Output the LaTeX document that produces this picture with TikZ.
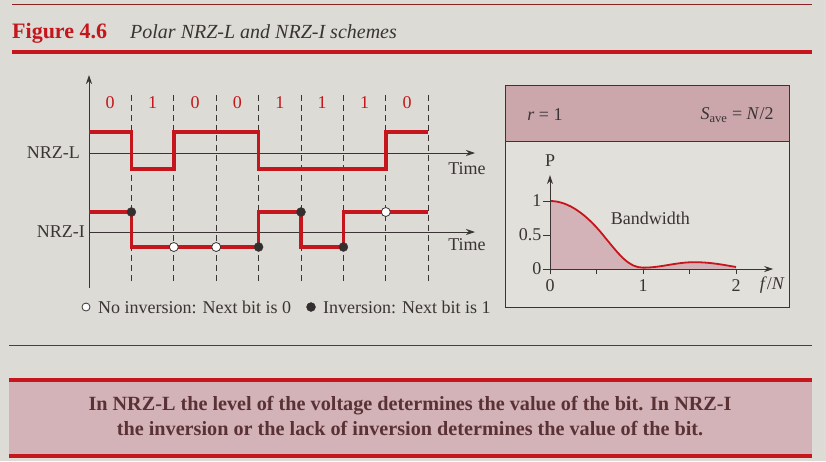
\documentclass[tikz,border=0pt]{standalone}
\usepackage{fontspec}
\setmainfont{Liberation Serif}
\usetikzlibrary{arrows.meta}
\definecolor{paper}{HTML}{DCDBD5}
\definecolor{panel}{HTML}{E1E0DB}
\definecolor{bookred}{HTML}{C4161C}
\definecolor{rose}{HTML}{CBA7AC}
\definecolor{roselight}{HTML}{D3B3B7}
\definecolor{ink}{HTML}{3A3434}
\definecolor{brownink}{HTML}{5A3236}
\tikzset{
  signal/.style={bookred,line width=3.4pt,line join=miter},
  bitline/.style={ink,line width=0.8pt,dash pattern=on 6pt off 4pt},
  axisline/.style={ink,line width=0.9pt,-{Stealth[length=9pt,width=6pt]}},
  onedot/.style={circle,fill=ink!90!black,draw=ink,inner sep=0pt,minimum size=9pt},
  zerodot/.style={circle,fill=white,draw=ink,line width=0.8pt,inner sep=0pt,minimum size=9pt},
  lbl/.style={font=\fontsize{18}{20}\selectfont,text=ink,inner sep=1pt}
}
\begin{document}
\begin{tikzpicture}[x=1pt,y=-1pt]
\def\w{42.4}
\fill[paper] (0,0) rectangle (826,461);
\useasboundingbox (0,0) rectangle (826,461);
% heading
\draw[bookred!60!ink,line width=0.8pt] (12,4) -- (812,4);
\node[anchor=base west,inner sep=0pt,text=bookred,font=\fontsize{22}{24}\selectfont\bfseries] (fignum) at (12,38) {Figure 4.6};
\node[anchor=base west,inner sep=0pt,text=ink,font=\fontsize{20}{24}\selectfont\itshape] (figtitle) at (130,38) {Polar NRZ-L and NRZ-I schemes};
\draw[bookred,line width=3.5pt] (12,52) -- (812,52);
% bit cells
\foreach \b [count=\i] in {0,1,0,0,1,1,1,0} {
  \draw[bitline] (89+\i*\w,95) -- (89+\i*\w,283);
  \node[lbl,text=bookred] (bit\i) at (89+\i*\w-\w/2,103) {\b};
}
% axes
\draw[axisline] (89,288) -- (89,75);
\draw[axisline] (89,153) -- (475,153);
\draw[axisline] (89,232) -- (475,232);
\node[lbl,anchor=east] (nrzl) at (81,153) {NRZ-L};
\node[lbl,anchor=east] (nrzi) at (86,232) {NRZ-I};
\node[lbl] (timel) at (467,169) {Time};
\node[lbl] (timei) at (467,245) {Time};
% NRZ-L
\draw[signal] (89,132) -- (89+\w,132) -- (89+\w,169) -- (89+2*\w,169) -- (89+2*\w,132)
  -- (89+4*\w,132) -- (89+4*\w,169) -- (89+7*\w,169) -- (89+7*\w,132) -- (89+8*\w,132);
% NRZ-I
\draw[signal] (89,212) -- (89+\w,212) -- (89+\w,247) -- (89+4*\w,247) -- (89+4*\w,212)
  -- (89+5*\w,212) -- (89+5*\w,247) -- (89+6*\w,247) -- (89+6*\w,212) -- (89+8*\w,212);
\node[onedot] (inv1) at (89+\w,212) {};
\node[zerodot] (keep1) at (89+2*\w,247) {};
\node[zerodot] (keep2) at (89+3*\w,247) {};
\node[onedot] (inv2) at (89+4*\w,247) {};
\node[onedot] (inv3) at (89+5*\w,212) {};
\node[onedot] (inv4) at (89+6*\w,247) {};
\node[zerodot] (keep3) at (89+7*\w,212) {};
% legend
\node[zerodot,minimum size=8pt] (keepkey) at (86,307) {};
\node[lbl,anchor=west] (keeptext) at (97,307) {No inversion: Next bit is 0};
\node[onedot] (invkey) at (311,307) {};
\node[lbl,anchor=west] (invtext) at (322,307) {Inversion: Next bit is 1};
% spectrum panel
\fill[panel] (505,141) rectangle (789,307);
\fill[rose] (505,85) rectangle (789,141);
\draw[ink,line width=0.9pt] (505,85) rectangle (789,307) (505,141) -- (789,141);
\node[lbl] (rate) at (545,115) {\textit{r} = 1};
\node[lbl] (save) at (737,115) {\textit{S}\textsubscript{ave} = \textit{N}/2};
\begin{scope}[shift={(550,269)},x=93pt,y=68pt]
\fill[roselight] (0,0) -- (0,1) .. controls (0.2,1) and (0.4,0.8) .. (0.6,0.45)
  .. controls (0.75,0.2) and (0.85,0.02) .. (1,0.02)
  .. controls (1.2,0.02) and (1.35,0.1) .. (1.55,0.1)
  .. controls (1.75,0.1) and (1.9,0.05) .. (2,0.03) -- (2,0) -- cycle;
\draw[bookred,line width=1.8pt] (0,1) .. controls (0.2,1) and (0.4,0.8) .. (0.6,0.45)
  .. controls (0.75,0.2) and (0.85,0.02) .. (1,0.02)
  .. controls (1.2,0.02) and (1.35,0.1) .. (1.55,0.1)
  .. controls (1.75,0.1) and (1.9,0.05) .. (2,0.03);
\draw[axisline] (0,-0.08) -- (0,1.38);
\draw[axisline] (0,0) -- (2.4,0);
\foreach \t in {0,0.5,1} \draw[ink,line width=0.9pt] (-0.07,\t) -- (0,\t);
\foreach \t in {0.5,1,1.5,2} \draw[ink,line width=0.9pt] (\t,0) -- (\t,-0.08);
\node[lbl,anchor=east] (yone) at (-0.08,1) {1};
\node[lbl,anchor=east] (yhalf) at (-0.08,0.5) {0.5};
\node[lbl,anchor=east] (yzero) at (-0.08,0) {0};
\node[lbl] (xzero) at (0,-0.24) {0};
\node[lbl] (xone) at (1,-0.24) {1};
\node[lbl] (xtwo) at (2,-0.24) {2};
\node[lbl] (fn) at (2.39,-0.24) {\textit{f}/\textit{N}};
\node[lbl] (pw) at (0,1.6) {P};
\node[lbl] (bw) at (1.08,0.75) {Bandwidth};
\end{scope}
% summary
\draw[bookred!60!ink,line width=0.8pt] (9,345) -- (812,345);
\fill[roselight] (9,380) rectangle (812,456);
\draw[bookred,line width=3.5pt] (9,380) -- (812,380) (9,456) -- (812,456);
\node[align=center,text=brownink,font=\fontsize{20.2}{25}\selectfont\bfseries] (summary) at (410,416)
  {In NRZ-L the level of the voltage determines the value of the bit. In NRZ-I\\
   the inversion or the lack of inversion determines the value of the bit.};
\end{tikzpicture}
\end{document}
